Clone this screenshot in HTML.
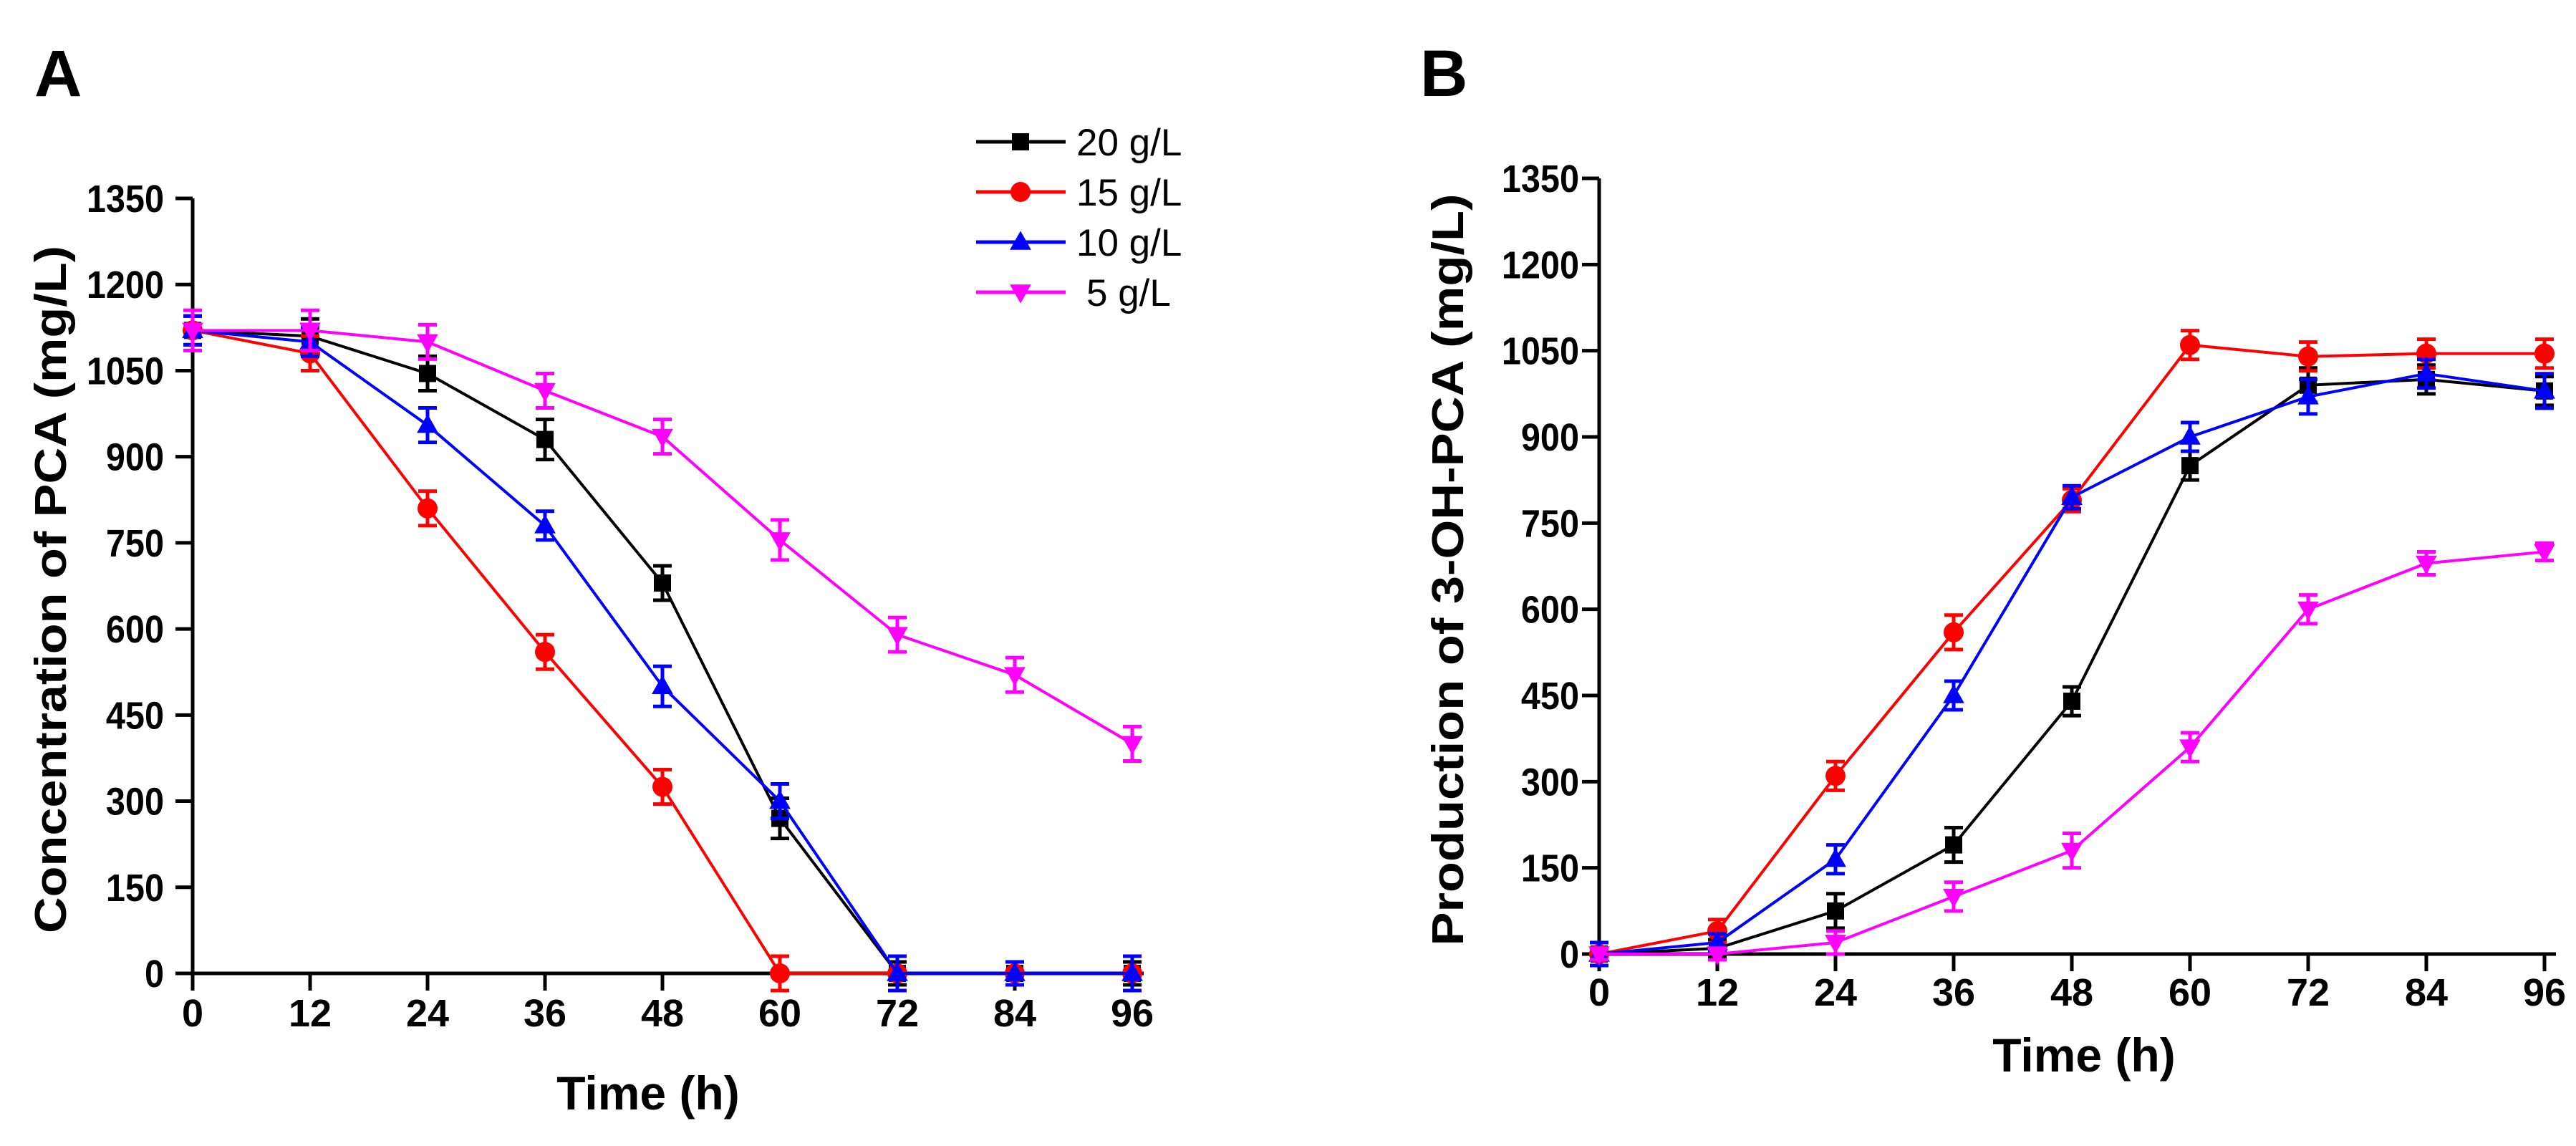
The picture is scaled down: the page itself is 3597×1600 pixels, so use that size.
<!DOCTYPE html>
<html><head><meta charset="utf-8"><style>
html,body{margin:0;padding:0;background:#fff;}
svg{display:block;font-family:"Liberation Sans",Arial,sans-serif;}
</style></head>
<body>
<svg id="fig" width="3597" height="1600" viewBox="0 0 3597 1600" xmlns="http://www.w3.org/2000/svg"></svg>
<script>
const hours = [0, 12, 24, 36, 48, 60, 72, 84, 96];
const yTicks = [0, 150, 300, 450, 600, 750, 900, 1050, 1200, 1350];
const seriesNames = ["20 g/L", "15 g/L", "10 g/L", "5 g/L"];
const seriesColors = ["#000000", "#ff0000", "#0000ff", "#ff00ff"];
const seriesMarkers = ["square", "circle", "triangle", "down"];
// Panel A: PCA concentration
const a20 = [1120, 1110, 1045, 930, 680, 270, 0, 0, 0];
const a15 = [1120, 1080, 810, 560, 325, 0, 0, 0, 0];
const a10 = [1120, 1100, 955, 780, 500, 300, 0, 0, 0];
const a5 = [1120, 1120, 1100, 1015, 935, 755, 590, 520, 400];
const aErr20 = [25, 30, 30, 35, 30, 35, 20, 20, 20];
const aErr15 = [25, 30, 30, 30, 30, 30, 0, 20, 0];
const aErr10 = [25, 25, 30, 25, 35, 30, 30, 20, 30];
const aErr5 = [35, 35, 30, 30, 30, 35, 30, 30, 30];
// Panel B: 3-OH-PCA production
const b20 = [0, 10, 75, 190, 440, 850, 990, 1000, 980];
const b15 = [0, 40, 310, 560, 790, 1060, 1040, 1045, 1045];
const b10 = [0, 20, 165, 450, 795, 900, 970, 1010, 980];
const b5 = [0, 0, 20, 100, 180, 360, 600, 680, 700];
const bErr20 = [10, 15, 30, 30, 25, 25, 30, 25, 25];
const bErr15 = [10, 20, 25, 30, 20, 25, 25, 25, 25];
const bErr10 = [20, 15, 25, 25, 20, 25, 30, 25, 30];
const bErr5 = [10, 10, 20, 25, 30, 25, 25, 20, 15];

const NS = "http://www.w3.org/2000/svg";
const svg = document.getElementById("fig");
function mk(tag, attrs, parent) {
  const e = document.createElementNS(NS, tag);
  for (const k in attrs) e.setAttribute(k, attrs[k]);
  (parent || svg).appendChild(e);
  return e;
}
function marker(g, type, x, y, color, s) {
  let e;
  if (type === "square") e = mk("rect", {x: x - s/2, y: y - s/2, width: s, height: s, fill: color}, g);
  else if (type === "circle") e = mk("circle", {cx: x, cy: y, r: s/2 + 2, fill: color}, g);
  else if (type === "triangle") e = mk("polygon", {points: `${x},${y - s*0.65} ${x - s*0.62},${y + s*0.45} ${x + s*0.62},${y + s*0.45}`, fill: color}, g);
  else e = mk("polygon", {points: `${x},${y + s*0.65} ${x - s*0.62},${y - s*0.45} ${x + s*0.62},${y - s*0.45}`, fill: color}, g);
  return e;
}

function panel(cfg) {
  const {name, x0, y0, yTop, xEnd, data, errs, letter, letterX, ytitle, ytitleX, xtitleX, xtitleY, ylabGap, xlabY} = cfg;
  const sx = h => x0 + (h / 96) * (xEnd - x0);
  const sy = v => y0 - (v / 1350) * (y0 - yTop);
  const g = mk("g", {});
  
  

  const L = mk("text", {x: letterX, y: 134, "font-size": 92, "font-weight": "bold"}, g);
  L.textContent = letter;
  
  

  // axes
  const ax = mk("g", {stroke: "#000", "stroke-width": 5, fill: "none"}, g);
  
  
  mk("line", {x1: x0, y1: yTop, x2: x0, y2: y0 + 24}, ax);
  mk("line", {x1: x0 - 24, y1: y0, x2: xEnd + 16, y2: y0}, ax);
  yTicks.forEach(v => {
    mk("line", {x1: x0 - 24, y1: sy(v), x2: x0, y2: sy(v)}, ax);
    const t = mk("text", {x: x0 - ylabGap, y: sy(v) + 19, "font-size": 54, "font-weight": "bold", "text-anchor": "end", transform: `translate(${x0 - ylabGap},0) scale(0.9,1) translate(${-(x0 - ylabGap)},0)`}, g);
    t.textContent = v;
    
    
  });
  hours.forEach(h => {
    mk("line", {x1: sx(h), y1: y0, x2: sx(h), y2: y0 + 24}, ax);
    const t = mk("text", {x: sx(h), y: xlabY, "font-size": 54, "font-weight": "bold", "text-anchor": "middle"}, g);
    t.textContent = h;
    
    
  });
  const yt = mk("text", {x: 0, y: 0, "font-size": 62, "font-weight": "bold", "text-anchor": "middle",
    transform: `translate(${ytitleX},${(yTop + y0) / 2 + 5}) rotate(-90)`, textLength: ytitle[1], lengthAdjust: "spacingAndGlyphs"}, g);
  yt.textContent = ytitle[0];
  
  
  const xt = mk("text", {x: xtitleX, y: xtitleY, "font-size": 66, "font-weight": "bold", "text-anchor": "middle"}, g);
  xt.textContent = "Time (h)";
  
  

  // series
  data.forEach((vals, si) => {
    const sg = mk("g", {}, g);
    
    
    const c = seriesColors[si];
    const pts = vals.map((v, i) => `${sx(hours[i])},${sy(v)}`).join(" ");
    const pl = mk("polyline", {points: pts, fill: "none", stroke: c, "stroke-width": 4}, sg);
    
    
    vals.forEach((v, i) => {
      const e = errs[si][i];
      if (e > 0) {
        const eb = mk("path", {d: `M${sx(hours[i])},${sy(v - e)}V${sy(v + e)}M${sx(hours[i]) - 13},${sy(v + e)}h26M${sx(hours[i]) - 13},${sy(v - e)}h26`, stroke: c, "stroke-width": 5, fill: "none"}, sg);
        
        
      }
      const m = marker(sg, seriesMarkers[si], sx(hours[i]), sy(v), c, 24);
      
      
    });
  });
}

panel({name: "chart-a", x0: 269, y0: 1359, yTop: 277, xEnd: 1581,
  data: [a20, a15, a10, a5], errs: [aErr20, aErr15, aErr10, aErr5],
  letter: "A", letterX: 48, ytitle: ["Concentration of PCA (mg/L)", 960], ytitleX: 92,
  xtitleX: 905, xtitleY: 1549, ylabGap: 40, xlabY: 1433});
panel({name: "chart-b", x0: 2233, y0: 1332, yTop: 249, xEnd: 3553,
  data: [b20, b15, b10, b5], errs: [bErr20, bErr15, bErr10, bErr5],
  letter: "B", letterX: 1983, ytitle: ["Production of 3-OH-PCA (mg/L)", 1050], ytitleX: 2043,
  xtitleX: 2910, xtitleY: 1496, ylabGap: 28, xlabY: 1404});

// legend
const lg = mk("g", {});


const legY = [198, 268, 338, 408];
seriesNames.forEach((n, i) => {
  const eg = mk("g", {}, lg);
  
  
  mk("line", {x1: 1363, y1: legY[i], x2: 1488, y2: legY[i], stroke: seriesColors[i], "stroke-width": 5}, eg);
  marker(eg, seriesMarkers[i], 1425, legY[i], seriesColors[i], 24);
  const t = mk("text", {x: i === 3 ? 1517 : 1503, y: legY[i] + 19, "font-size": 53}, eg);
  t.textContent = n;
});
</script>
</body></html>
